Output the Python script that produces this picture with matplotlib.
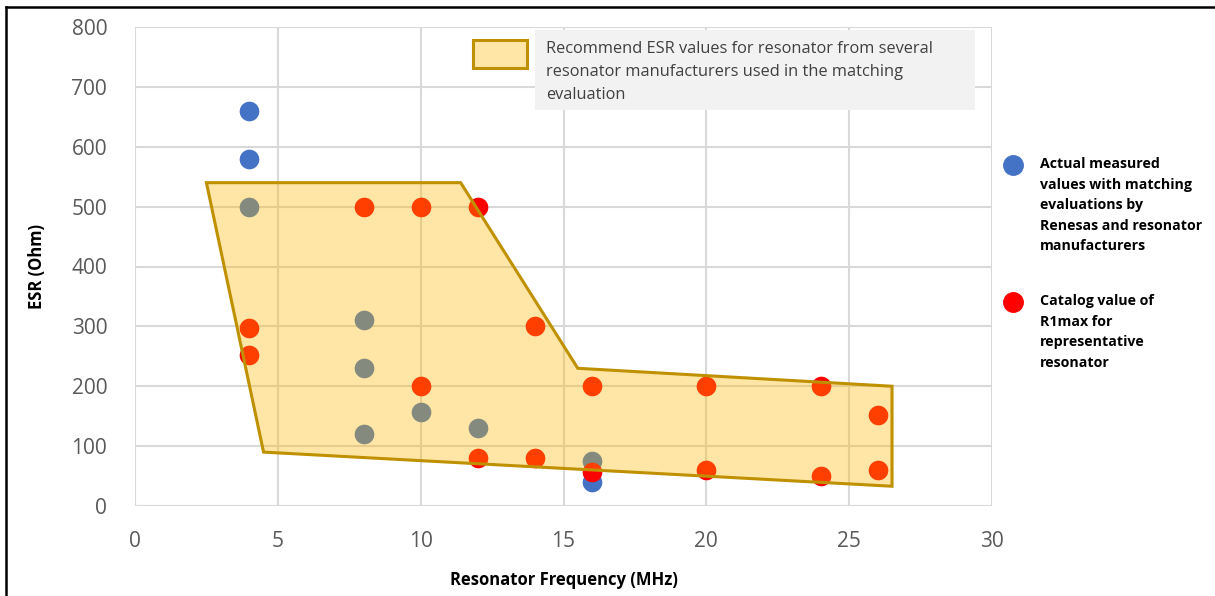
import matplotlib
matplotlib.use("Agg")
import matplotlib.pyplot as plt
from matplotlib.patches import Polygon, Rectangle
from matplotlib.lines import Line2D

# ---- data ----
measured_freq = [4, 4, 4, 8, 8, 8, 10, 12, 16, 16]
measured_esr = [660, 580, 500, 310, 230, 120, 157, 130, 75, 40]

catalog_freq = [4, 4, 8, 10, 12, 14, 10, 16, 20, 24, 26, 12, 14, 16, 20, 24, 26]
catalog_esr = [297, 252, 500, 500, 500, 300, 200, 200, 200, 200, 152, 80, 80, 57, 60, 50, 60]

region_freq = [2.5, 11.4, 15.5, 26.5, 26.5, 4.5]
region_esr = [540, 540, 230, 200, 33, 90]

x_ticks = [0, 5, 10, 15, 20, 25, 30]
y_ticks = [0, 100, 200, 300, 400, 500, 600, 700, 800]

region_label = ("Recommend ESR values for resonator from several\n"
                "resonator manufacturers used in the matching\n"
                "evaluation")
measured_label = ("Actual measured\nvalues with matching\nevaluations by\n"
                  "Renesas and resonator\nmanufacturers")
catalog_label = "Catalog value of\nR1max for\nrepresentative\nresonator"

# ---- style ----
plt.rcParams['font.family'] = ['Open Sans', 'DejaVu Sans']
W, H = 1215, 596
fig = plt.figure(figsize=(W / 100, H / 100), dpi=100)
ax = fig.add_axes([135 / W, 1 - 506 / H, (992 - 135) / W, (506 - 27) / H])

blue = '#4472C4'
red = '#FF0000'
fill_a = 0.35
fill_rgba = (1.0, 0.718, 0.0, fill_a)
edge_c = '#BF9000'

ax.scatter(measured_freq, measured_esr, s=200, color=blue, zorder=3, linewidths=0)
ax.scatter(catalog_freq, catalog_esr, s=200, color=red, zorder=3, linewidths=0)

poly = Polygon(list(zip(region_freq, region_esr)), closed=True,
               facecolor=fill_rgba, edgecolor=edge_c, linewidth=2.2, zorder=4)
ax.add_patch(poly)

ax.set_xlim(0, 30)
ax.set_ylim(0, 800)
ax.set_xticks(x_ticks)
ax.set_yticks(y_ticks)
ax.grid(True, color='#D9D9D9', linewidth=1.5, zorder=0)
ax.set_axisbelow(True)
for s in ax.spines.values():
    s.set_visible(False)
ax.tick_params(length=0, labelsize=15, labelcolor='#595959')
ax.tick_params(axis='y', pad=20)
ax.tick_params(axis='x', pad=18)

ax.set_xlabel('Resonator Frequency (MHz)', fontsize=12, fontweight='bold',
              color='black', labelpad=14)
ax.set_ylabel('ESR (Ohm)', fontsize=12, fontweight='bold', color='black',
              labelpad=18)

# ---- region legend (inside plot, top) ----
fig.add_artist(Rectangle((535 / W, 1 - 110 / H), (975 - 535) / W, 80 / H,
                         transform=fig.transFigure, facecolor='#F2F2F2',
                         edgecolor='none', zorder=5))
fig.add_artist(Rectangle((473 / W, 1 - 68 / H), 54 / W, 28 / H,
                         transform=fig.transFigure, facecolor=fill_rgba,
                         edgecolor=edge_c, linewidth=2.2, zorder=6))
fig.text(546 / W, 1 - 41 / H, region_label, fontsize=11.8, color='#404040',
         va='top', ha='left', linespacing=1.6, zorder=7)

# ---- point legend (right side) ----
fig.add_artist(Line2D([1013 / W], [1 - 165 / H], marker='o', markersize=14,
                      color=blue, linestyle='none', transform=fig.transFigure))
fig.add_artist(Line2D([1013 / W], [1 - 302 / H], marker='o', markersize=14,
                      color=red, linestyle='none', transform=fig.transFigure))
fig.text(1040 / W, 1 - 157 / H, measured_label, fontsize=10.2, fontweight='bold',
         color='black', va='top', ha='left', linespacing=1.6)
fig.text(1040 / W, 1 - 294 / H, catalog_label, fontsize=10.2, fontweight='bold',
         color='black', va='top', ha='left', linespacing=1.6)

# ---- outer frame (top and left) ----
fig.add_artist(Line2D([6 / W, 1], [1 - 7 / H, 1 - 7 / H], color='black',
                      linewidth=1.8, transform=fig.transFigure))
fig.add_artist(Line2D([6 / W, 6 / W], [0, 1 - 7 / H], color='black',
                      linewidth=1.8, transform=fig.transFigure))

fig.savefig('out.png', dpi=100)
